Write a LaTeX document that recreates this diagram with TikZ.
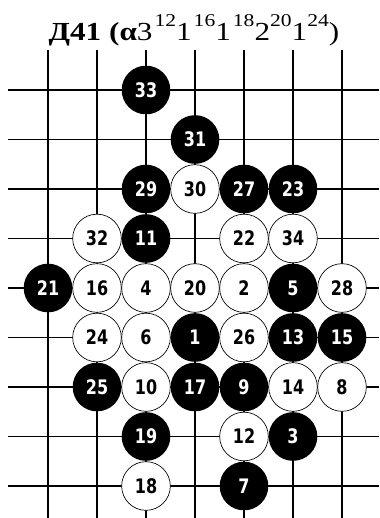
\documentclass[tikz,border=0pt]{standalone}
\usepackage{fontspec}
\setmainfont{Liberation Serif}
\newfontfamily\titlefont[FakeStretch=1.2]{Liberation Serif}
\newfontfamily\stonefont[FakeStretch=0.8]{DejaVu Sans}
\tikzset{
  blackstone/.style={circle, fill=black, text=white, minimum size=36.5pt, inner sep=0pt,
    font=\stonefont\bfseries\fontsize{15}{15}\selectfont},
  whitestone/.style={blackstone, fill=white, draw=black, line width=0.5pt, text=black},
  gridline/.style={line width=0.8pt}
}
\newcommand{\upnum}[1]{\raisebox{10pt}{\fontsize{13.5}{13.5}\selectfont #1}}
\begin{document}
\begin{tikzpicture}[x=0.75pt, y=-0.75pt]
	\useasboundingbox (0,0) rectangle (379,518);
	% board lines
	\foreach \r in {0,...,8}
		\draw [gridline] (8,{90+49.5*\r}) -- (379,{90+49.5*\r});
	\foreach \c in {0,...,6}
		\draw [gridline] ({48+49*\c},50) -- ({48+49*\c},518);
	% black stones
	\foreach \c/\r/\n in {3/1/33, 4/2/31, 3/3/29, 5/3/27, 6/3/23, 3/4/11, 1/5/21, 6/5/5,
		4/6/1, 6/6/13, 7/6/15, 2/7/25, 4/7/17, 5/7/9, 3/8/19, 6/8/3, 5/9/7}
		\node [blackstone] (s\n) at ({48+49*(\c-1)},{90+49.5*(\r-1)}) {\n};
	% white stones
	\foreach \c/\r/\n in {4/3/30, 2/4/32, 5/4/22, 6/4/34, 2/5/16, 3/5/4, 4/5/20, 5/5/2,
		7/5/28, 2/6/24, 3/6/6, 5/6/26, 3/7/10, 6/7/14, 7/7/8, 5/8/12, 3/9/18}
		\node [whitestone] (s\n) at ({48+49*(\c-1)},{90+49.5*(\r-1)}) {\n};
	\node [anchor=base, font=\titlefont\fontsize{19.5}{19.5}\selectfont] (title) at (194,40)
		{\textbf{Д41 (α}3\hspace{1.5pt}\upnum{12}1\hspace{1.5pt}\upnum{16}1\hspace{1.5pt}\upnum{18}2\upnum{20}1\upnum{24})};
\end{tikzpicture}
\end{document}
